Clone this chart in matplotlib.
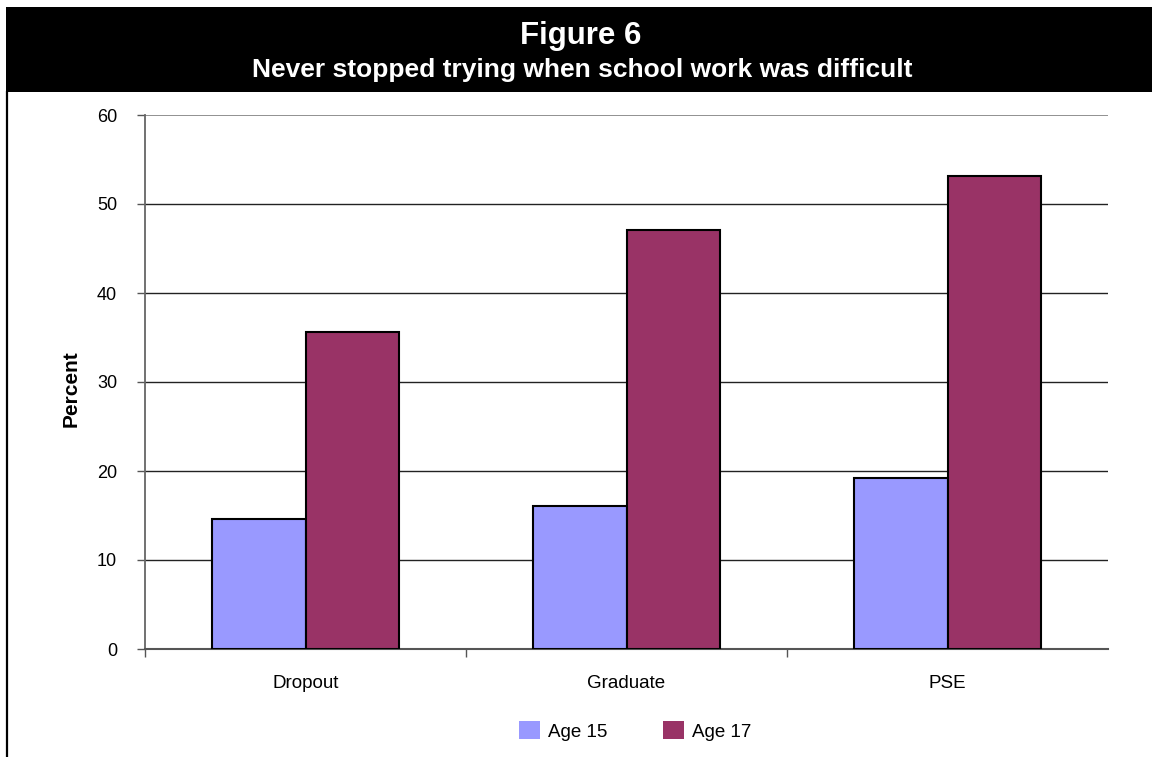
import matplotlib
matplotlib.use("Agg")
import matplotlib.pyplot as plt
from matplotlib.patches import Rectangle, Patch
from matplotlib.lines import Line2D
import numpy as np

plt.rcParams['font.family'] = ['Liberation Sans', 'DejaVu Sans']

# Data
categories = ["Dropout", "Graduate", "PSE"]
series_names = ["Age 15", "Age 17"]
age15 = [14.6, 16.1, 19.2]
age17 = [35.6, 47.1, 53.1]
colors = ["#9999FF", "#993366"]
yticks = [0, 10, 20, 30, 40, 50, 60]

W, H = 1152, 757
fig = plt.figure(figsize=(W / 100, H / 100), dpi=100)

# Black title banner
fig.patches.append(Rectangle((6 / W, 1 - 92 / H), 1 - 6 / W, 85 / H,
                             transform=fig.transFigure, facecolor="black",
                             edgecolor="none", zorder=0))
fig.text(581 / W, 1 - 36 / H, "Figure 6", color="white", fontsize=22.5,
         fontweight="bold", ha="center", va="center")
fig.text(582 / W, 1 - 70 / H, "Never stopped trying when school work was difficult",
         color="white", fontsize=19, fontweight="bold", ha="center", va="center")
# Left frame rule
fig.lines.append(Line2D([7 / W, 7 / W], [0, 1 - 92 / H], transform=fig.transFigure,
                        color="black", lw=1.6))

ax = fig.add_axes([145 / W, 1 - 649 / H, (1108 - 145) / W, (649 - 115) / H])
x = np.arange(len(categories))
bw = 0.29
ax.bar(x - bw / 2, age15, bw, color=colors[0], edgecolor="black", linewidth=1.5, zorder=3)
ax.bar(x + bw / 2, age17, bw, color=colors[1], edgecolor="black", linewidth=1.5, zorder=3)

ax.set_xlim(-0.5, 2.5)
ax.set_ylim(0, 60)
ax.set_yticks(yticks)
ax.set_yticklabels([str(v) for v in yticks], fontsize=13)
for v in yticks[1:-1]:
    ax.axhline(v, color="#222222", lw=1.0, zorder=1)
ax.axhline(60, color="#888888", lw=1.3, zorder=1)

# Category boundary ticks, labels at centres
ax.set_xticks([-0.5, 0.5, 1.5])
ax.set_xticklabels([])
ax.set_xticks(x, minor=True)
ax.set_xticklabels(categories, minor=True, fontsize=13.5)
ax.tick_params(axis="x", which="major", direction="out", length=6, width=1, color="#555555")
ax.tick_params(axis="x", which="minor", length=0, pad=19)
ax.tick_params(axis="y", direction="out", length=6, width=1, color="#555555", pad=14)

for s in ["top", "right"]:
    ax.spines[s].set_visible(False)
ax.spines["left"].set_color("#666666")
ax.spines["left"].set_linewidth(1.3)
ax.spines["bottom"].set_color("#555555")
ax.spines["bottom"].set_linewidth(1.5)

fig.text(71 / W, 1 - 389 / H, "Percent", rotation=90, fontsize=15,
         fontweight="bold", ha="center", va="center")

handles = [Patch(facecolor=c, edgecolor="none") for c in colors]
fig.legend(handles, series_names, loc="center", bbox_to_anchor=(635 / W, 1 - 731 / H),
           ncol=2, frameon=False, fontsize=13.5, handlelength=1.1, handleheight=1.1,
           handletextpad=0.42, columnspacing=3.0)

fig.savefig("out.png", dpi=100, facecolor="white")
